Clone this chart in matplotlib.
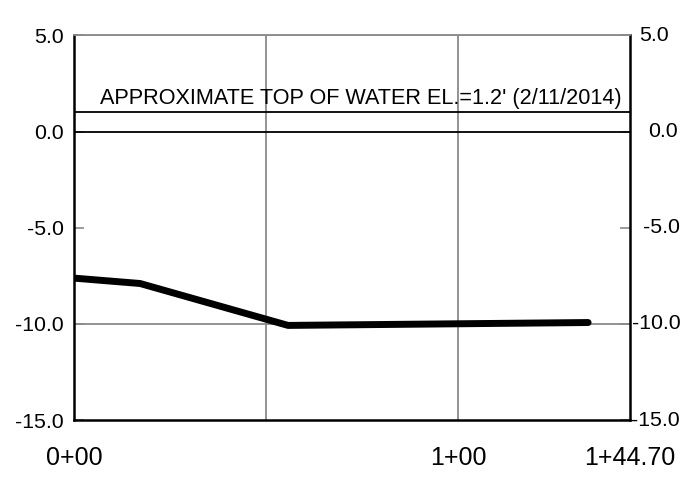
import matplotlib
matplotlib.use("Agg")
import matplotlib.pyplot as plt
from matplotlib.transforms import offset_copy, blended_transform_factory

plt.rcParams['font.family'] = ['Liberation Sans', 'DejaVu Sans']

# ---- data ----
station_ft = [0.0, 17.2, 55.7, 133.8]
elevation_ft = [-7.62, -7.90, -10.08, -9.93]
water_el = 1.0
water_label = "APPROXIMATE TOP OF WATER EL.=1.2' (2/11/2014)"
y_ticks = [5.0, 0.0, -5.0, -10.0, -15.0]
y_tick_labels = ["5.0", "0.0", "-5.0", "-10.0", "-15.0"]
x_ticks = [0.0, 100.0, 144.70]
x_tick_labels = ["0+00", "1+00", "1+44.70"]
x_grid = [50.0, 100.0]
y_grid = [5.0, -10.0]

# ---- layout ----
W, H, DPI = 692, 486, 100
fig = plt.figure(figsize=(W / DPI, H / DPI), dpi=DPI)
ax = fig.add_axes([74 / W, 1 - 420 / H, (630 - 74) / W, (420 - 35.5) / H])
ax.set_xlim(0, 144.70)
ax.set_ylim(-15, 5)

gray = '#8a8a8a'
for xg in x_grid:
    ax.axvline(xg, color=gray, lw=1.3, zorder=1)
for yg in y_grid:
    ax.axhline(yg, color=gray, lw=1.3, zorder=1)
ax.axhline(0.0, color='black', lw=1.3, zorder=2)
ax.axhline(water_el, color='black', lw=1.3, zorder=2)

ax.plot(station_ft, elevation_ft, color='black', lw=5.0,
        solid_capstyle='round', solid_joinstyle='round', zorder=3)

ax.text(0.985, water_el, water_label, transform=offset_copy(
    blended_transform_factory(ax.transAxes, ax.transData), fig=fig, x=0, y=3, units='dots'),
    ha='right', va='bottom', fontsize=15.6, color='black')

for side in ['left', 'right', 'bottom']:
    ax.spines[side].set_linewidth(1.8)
    ax.spines[side].set_color('black')
ax.spines['top'].set_color(gray)
ax.spines['top'].set_linewidth(1.3)

# y ticks: inward short ticks both sides
ax.set_yticks(y_ticks)
ax.set_yticklabels(y_tick_labels, fontsize=15.3)
ax.tick_params(axis='y', direction='in', length=7, width=1.2, color=gray,
               left=True, right=True, pad=7.5)

# right-side labels placed individually (x start in pixels)
right_starts = [639, 648, 643, 632, 631]
for yv, lab, xs in zip(y_ticks, y_tick_labels, right_starts):
    tr = blended_transform_factory(fig.transFigure, ax.transData)
    ax.text(xs / W, yv, lab, transform=tr, ha='left', va='center',
            fontsize=15.3, color='black', clip_on=False)

ax.set_xticks(x_ticks)
ax.set_xticklabels(x_tick_labels, fontsize=18)
ax.tick_params(axis='x', length=0, pad=18.5)
ax.set_xticks([], minor=True)

fig.savefig('out.png', dpi=DPI)
